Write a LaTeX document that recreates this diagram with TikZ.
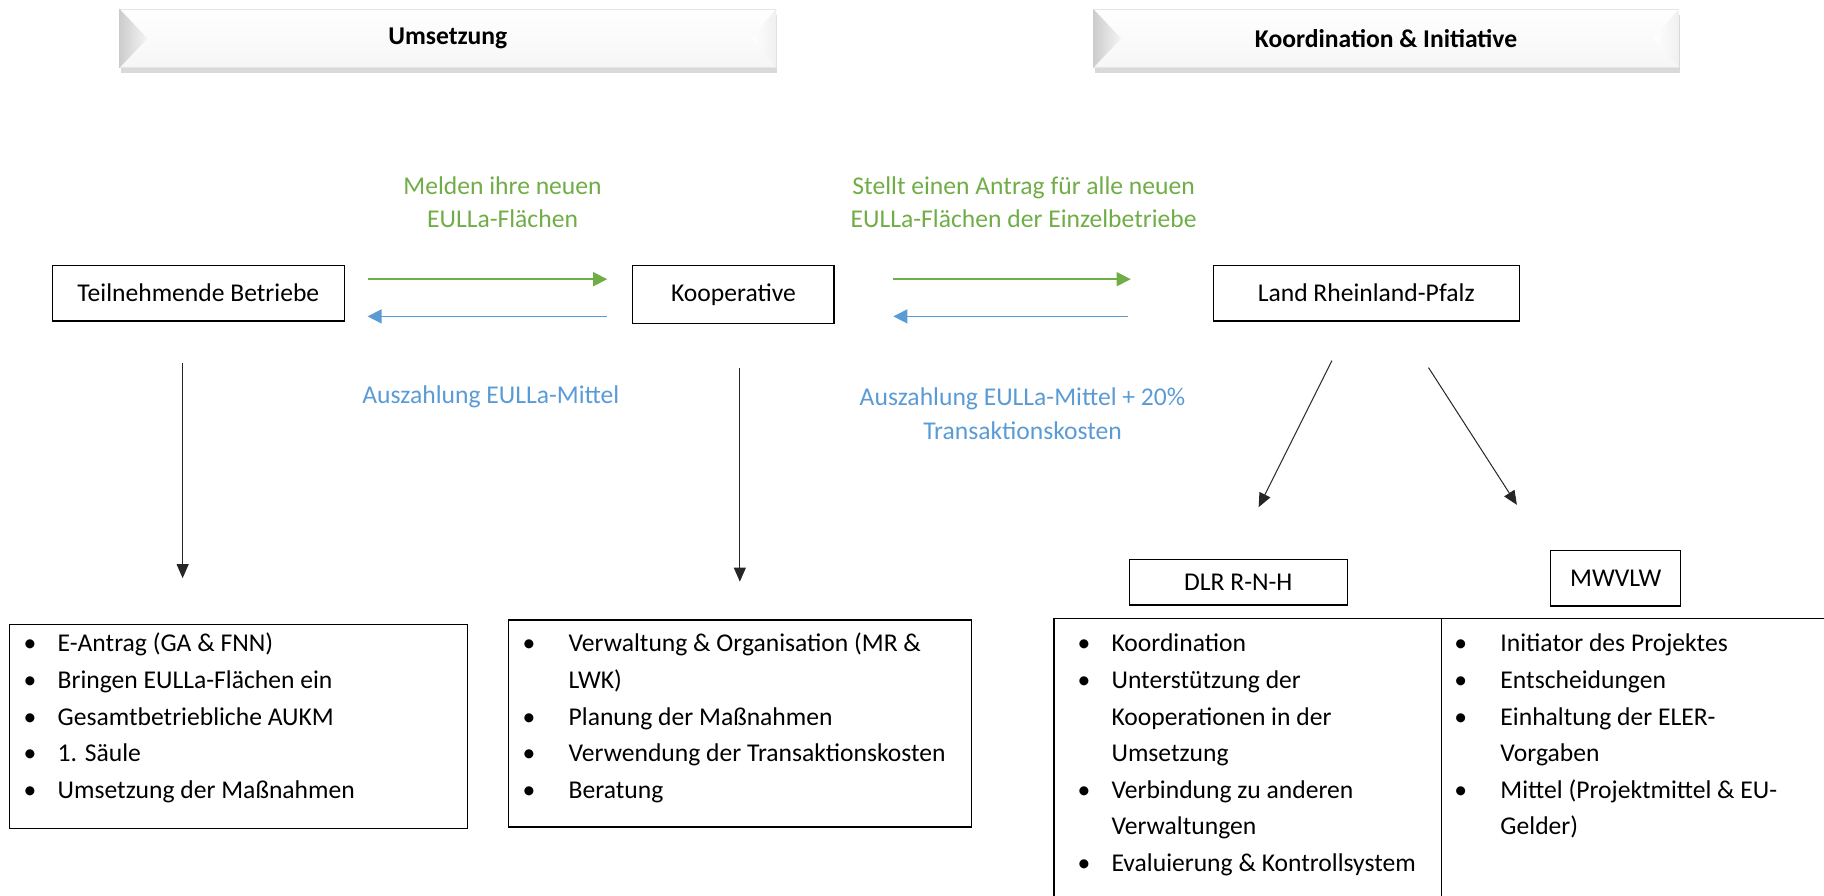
\documentclass[tikz,border=0pt]{standalone}
\usepackage{fontspec}
\setmainfont{Carlito}
\usetikzlibrary{arrows.meta,shadows}
\definecolor{agreen}{HTML}{70AD47}
\definecolor{ablue}{HTML}{5B9BD5}
\begin{document}
\begin{tikzpicture}[x=0.5816pt,y=-0.5816pt,
  box/.style={draw=black, line width=0.6pt, inner sep=0pt, fill=white,
    font=\fontsize{12.8}{16.5}\selectfont},
  lst/.style={anchor=north west, inner sep=0pt, font=\fontsize{12.8}{18.3}\selectfont},
  hdr/.style={top color=white, bottom color=gray!7, draw=gray!20, line width=0.4pt, inner sep=0pt,
    minimum height=29.1pt,
    font=\fontsize{12.8}{15}\selectfont\bfseries,
    drop shadow={opacity=0.3, shadow xshift=0.8pt, shadow yshift=-3pt}},
  garrow/.style={draw=agreen, line width=0.7pt, -{Triangle[length=7pt,width=7pt]}},
  barrow/.style={draw=ablue, line width=0.7pt, -{Triangle[length=7pt,width=7pt]}},
  karrow/.style={draw=black!85, line width=0.5pt, -{Triangle[length=7pt,width=6pt]}},
  glabel/.style={text=agreen, align=center, inner sep=0pt, font=\fontsize{12.8}{16.5}\selectfont},
  blabel/.style={text=ablue, align=center, inner sep=0pt, font=\fontsize{12.8}{16.8}\selectfont}
]
\useasboundingbox (0,0) rectangle (1568,770);
\clip (0,0) rectangle (1568,770);

% headers
\node[hdr, minimum width=328pt] (h1) at (385,33) {Umsetzung};
\shade[left color=gray!40, right color=gray!8] (h1.north west) -- ([xshift=14pt]h1.west) -- (h1.south west) -- cycle;
\shade[left color=white, right color=gray!12] (h1.north east) -- ([xshift=-12.5pt]h1.east) -- (h1.south east) -- cycle;
\node[hdr, minimum width=292.5pt] (h2) at (1191.5,33) {Koordination \& Initiative};
\shade[left color=gray!40, right color=gray!8] (h2.north west) -- ([xshift=14pt]h2.west) -- (h2.south west) -- cycle;
\shade[left color=white, right color=gray!12] (h2.north east) -- ([xshift=-12.5pt]h2.east) -- (h2.south east) -- cycle;

% main boxes
\node[box, minimum width=146pt, minimum height=27.9pt] (tb) at (170.5,252) {Teilnehmende Betriebe};
\node[box, minimum width=100.6pt, minimum height=29.1pt] (koop) at (630.5,253) {Kooperative};
\node[box, minimum width=153pt, minimum height=27.9pt] (land) at (1174.5,252) {Land Rheinland-Pfalz};

% labels
\node[glabel] (g1) at (432,174) {Melden ihre neuen\\EULLa-Flächen};
\node[glabel] (g2) at (880,174) {Stellt einen Antrag für alle neuen\\EULLa-Flächen der Einzelbetriebe};
\node[blabel] (bl1) at (422,341) {Auszahlung EULLa-Mittel};
\node[blabel] (bl2) at (879,355.5) {Auszahlung EULLa-Mittel + 20\%\\Transaktionskosten};

% horizontal arrows
\coordinate (ga1s) at (316,240); \coordinate (ga1e) at (522,240);
\coordinate (ba1s) at (522,272); \coordinate (ba1e) at (316,272);
\coordinate (ga2s) at (768,240); \coordinate (ga2e) at (972,240);
\coordinate (ba2s) at (970,272); \coordinate (ba2e) at (768,272);
\draw[garrow] (ga1s) -- (ga1e);
\draw[barrow] (ba1s) -- (ba1e);
\draw[garrow] (ga2s) -- (ga2e);
\draw[barrow] (ba2s) -- (ba2e);

% down arrows
\coordinate (d1s) at (157,312); \coordinate (d1e) at (157,497);
\coordinate (d2s) at (636,316); \coordinate (d2e) at (636,500);
\coordinate (d3s) at (1145,310); \coordinate (d3e) at (1082,436);
\coordinate (d4s) at (1228,316); \coordinate (d4e) at (1304,434);
\draw[karrow] (d1s) -- (d1e);
\draw[karrow] (d2s) -- (d2e);
\draw[karrow] (d3s) -- (d3e);
\draw[karrow] (d4s) -- (d4e);

% sub boxes
\node[box, minimum width=108.8pt, minimum height=22.7pt] (dlr) at (1064.5,500.5) {DLR R-N-H};
\node[box, minimum width=65.1pt, minimum height=27.9pt] (mw) at (1389,497) {MWVLW};

% bottom boxes
\node[box, minimum width=229.2pt, minimum height=101.8pt] (b1) at (205,624.5) {};
\node[box, minimum width=231.5pt, minimum height=103.5pt] (b2) at (636,622) {};
\node[box, minimum width=193.7pt, minimum height=144.2pt] (b3) at (1072.5,656) {};
\node[box, minimum width=193.7pt, minimum height=144.2pt] (b4) at (1405.5,656) {};

\node[lst] (l1) at (20,538) {\begin{tabular}{@{}p{17pt}@{}l@{}}
• & E-Antrag (GA \& FNN)\\
• & Bringen EULLa-Flächen ein\\
• & Gesamtbetriebliche AUKM\\
• & 1. Säule\\
• & Umsetzung der Maßnahmen
\end{tabular}};
\node[lst] (l2) at (449,538) {\begin{tabular}{@{}p{23pt}@{}l@{}}
• & Verwaltung \& Organisation (MR \&\\
  & LWK)\\
• & Planung der Maßnahmen\\
• & Verwendung der Transaktionskosten\\
• & Beratung
\end{tabular}};
\node[lst] (l3) at (926,538) {\begin{tabular}{@{}p{17pt}@{}l@{}}
• & Koordination\\
• & Unterstützung der\\
  & Kooperationen in der\\
  & Umsetzung\\
• & Verbindung zu anderen\\
  & Verwaltungen\\
• & Evaluierung \& Kontrollsystem
\end{tabular}};
\node[lst] (l4) at (1250,538) {\begin{tabular}{@{}p{23pt}@{}l@{}}
• & Initiator des Projektes\\
• & Entscheidungen\\
• & Einhaltung der ELER-\\
  & Vorgaben\\
• & Mittel (Projektmittel \& EU-\\
  & Gelder)
\end{tabular}};
\end{tikzpicture}
\end{document}
